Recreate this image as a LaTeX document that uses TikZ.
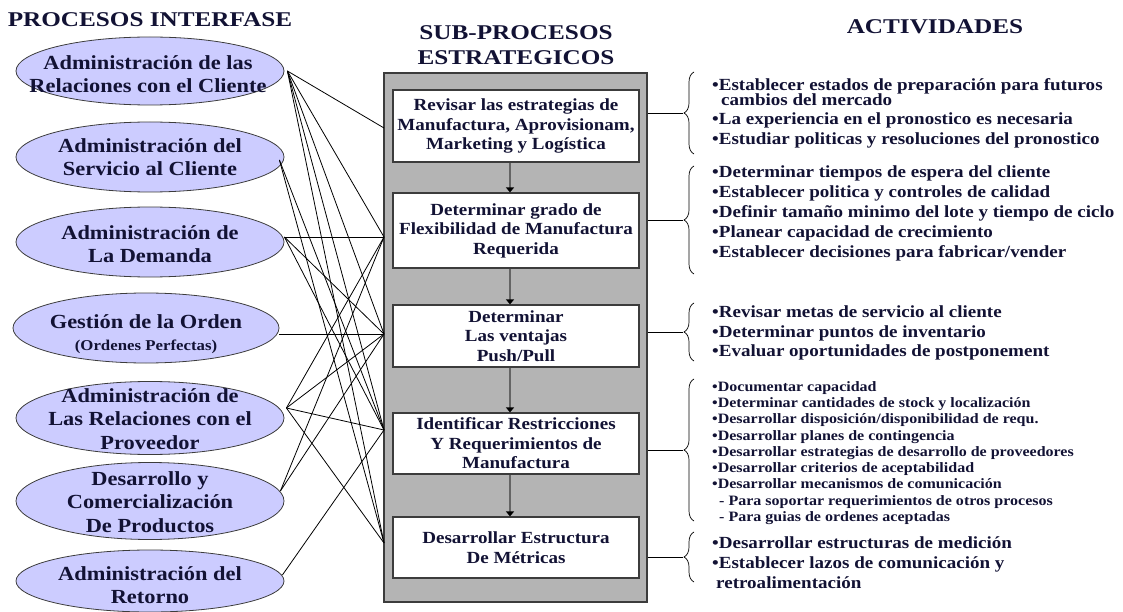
\documentclass[tikz,border=0pt]{standalone}
\usepackage{fontspec}
\setmainfont[FakeStretch=1.12]{Liberation Serif}
\newfontfamily\titlefont[FakeStretch=1.2]{Liberation Serif}
\usetikzlibrary{shapes.geometric,arrows.meta,decorations.pathreplacing}
\definecolor{inkblue}{RGB}{18,18,52}
\definecolor{lavender}{RGB}{204,204,255}
\definecolor{panelgray}{RGB}{180,180,180}
\definecolor{edgegray}{RGB}{60,60,60}
\definecolor{flowgray}{RGB}{100,100,100}

\begin{document}
\begin{tikzpicture}[x=1pt,y=-1pt,
  heading/.style={text=inkblue, inner sep=0, align=center,
    font=\titlefont\bfseries\fontsize{21}{25}\selectfont},
  proc/.style={ellipse, draw=edgegray, line width=0.8pt, fill=lavender, inner sep=0},
  proctext/.style={text=inkblue, inner sep=0, align=center,
    font=\bfseries\fontsize{20}{23.5}\selectfont},
  panelbox/.style={draw=edgegray, fill=panelgray, line width=1.6pt, inner sep=0},
  stepbox/.style={draw=edgegray, fill=white, line width=1.2pt, inner sep=0,
    minimum width=246pt, text=inkblue, align=center,
    font=\bfseries\fontsize{17}{19.5}\selectfont},
  flowarrow/.style={draw=flowgray, line width=2.4pt,
    -{Triangle[length=5pt,width=8pt,color=black]}},
  link/.style={draw=black, line width=0.8pt},
  bracket/.style={draw=black, line width=0.7pt, decorate,
    decoration={brace, amplitude=10pt}},
  acttext/.style={text=inkblue, anchor=west, inner sep=0, align=left,
    font=\bfseries\fontsize{17}{19.5}\selectfont},
  acttextsmall/.style={acttext, font=\bfseries\fontsize{14.3}{16.3}\selectfont}
]
\useasboundingbox (0,0) rectangle (1123,612);

% column headings
\node[heading] (hleft) at (150,20) {PROCESOS INTERFASE};
\node[heading] (hmid) at (516,45) {SUB-PROCESOS\\ESTRATEGICOS};
\node[heading] (hright) at (935,27) {ACTIVIDADES};

% interface processes
\node[proc, minimum width=268pt, minimum height=68pt] (e1) at (150,71) {};
\node[proc, minimum width=268pt, minimum height=70pt] (e2) at (150,157) {};
\node[proc, minimum width=268pt, minimum height=70pt] (e3) at (150,242) {};
\node[proc, minimum width=266pt, minimum height=70pt] (e4) at (146,328) {};
\node[proc, minimum width=268pt, minimum height=73pt] (e5) at (150,418) {};
\node[proc, minimum width=268pt, minimum height=77pt] (e6) at (150,501) {};
\node[proc, minimum width=268pt, minimum height=62pt] (e7) at (150,581) {};

\node[proctext] (l1) at (148,74) {Administración de las\\Relaciones con el Cliente};
\node[proctext] (l2) at (150,157) {Administración del\\Servicio al Cliente};
\node[proctext] (l3) at (150,244) {Administración de\\La Demanda};
\node[proctext] (l4) at (146,334) {Gestión de la Orden\\[-2pt]{\fontsize{15}{17}\selectfont(Ordenes Perfectas)}};
\node[proctext] (l5) at (150,419) {Administración de\\Las Relaciones con el\\Proveedor};
\node[proctext] (l6) at (150,502) {Desarrollo y\\Comercialización\\De Productos};
\node[proctext] (l7) at (150,585) {Administración del\\Retorno};

% strategic sub-processes
\node[panelbox, minimum width=263pt, minimum height=529pt] (panel) at (515.5,337.5) {};
\node[stepbox, minimum height=72pt] (b1) at (516,126)
  {Revisar las estrategias de\\Manufactura, Aprovisionam,\\Marketing y Logística};
\node[stepbox, minimum height=75pt] (b2) at (516,230.5)
  {Determinar grado de\\Flexibilidad de Manufactura\\Requerida};
\node[stepbox, minimum height=62pt] (b3) at (516,336)
  {Determinar\\Las ventajas\\Push/Pull};
\node[stepbox, minimum height=61pt] (b4) at (516,443.5)
  {Identificar Restricciones\\Y Requerimientos de\\Manufactura};
\node[stepbox, minimum height=61pt] (b5) at (516,547.5)
  {Desarrollar Estructura\\De Métricas};

\draw[flowarrow] ([xshift=-6pt]b1.south) -- ([xshift=-6pt]b2.north);
\draw[flowarrow] ([xshift=-6pt]b2.south) -- ([xshift=-6pt]b3.north);
\draw[flowarrow] ([xshift=-6pt]b3.south) -- ([xshift=-6pt]b4.north);
\draw[flowarrow] ([xshift=-6pt]b4.south) -- ([xshift=-6pt]b5.north);

% meeting points on the left edge of the panel
\coordinate (h1) at (384,128);
\coordinate (h2) at (384,237);
\coordinate (h3) at (384,334);
\coordinate (h4) at (384,430);
\coordinate (h5) at (384,543);

% departure points on the ellipses
\coordinate (s1) at ([xshift=3pt]e1.east);
\coordinate (s2) at ([xshift=-5pt,yshift=-3pt]e2.east);
\coordinate (s3) at ([yshift=5pt]e3.east);
\coordinate (s4) at ([yshift=-6pt]e4.east);
\coordinate (s5) at ([xshift=2pt,yshift=10pt]e5.east);
\coordinate (s6) at ([xshift=-4pt,yshift=10pt]e6.east);
\coordinate (s7) at ([xshift=-2pt,yshift=6pt]e7.east);

\foreach \h in {h1,h2,h3,h4,h5} \draw[link] (s1) -- (\h);
\foreach \h in {h4,h5} \draw[link] (s2) -- (\h);
\foreach \h in {h2,h3,h4} \draw[link] (s3) -- (\h);
\draw[link] (s4) -- (h3);
\foreach \h in {h2,h3,h4,h5} \draw[link] (s5) -- (\h);
\foreach \h in {h2,h3} \draw[link] (s6) -- (\h);
\draw[link] (s7) -- (h4);

% braces and their leaders
\coordinate (t1) at (683,113);
\coordinate (t2) at (683,220);
\coordinate (t3) at (683,332);
\coordinate (t4) at (683,450);
\coordinate (t5) at (683,557);
\draw[bracket] (694,154) -- (694,72);
\draw[bracket] (694,274) -- (694,166);
\draw[bracket] (694,361) -- (694,303);
\draw[bracket] (694,521) -- (694,379);
\draw[bracket] (694,582) -- (694,532);
\foreach \t in {t1,t2,t3,t4,t5} \draw[link] (panel.east |- \t) -- (\t);

% activities
\node[acttext] (g1) at (712,113)
  {•Establecer estados de preparación para futuros\\[-4.5pt]
   \hspace*{9pt}cambios del mercado\\
   •La experiencia en el pronostico es necesaria\\
   •Estudiar politicas y resoluciones del pronostico};
\node[acttext, font=\bfseries\fontsize{17}{20}\selectfont] (g2) at (712,213)
  {•Determinar tiempos de espera del cliente\\
   •Establecer politica y controles de calidad\\
   •Definir tamaño minimo del lote y tiempo de ciclo\\
   •Planear capacidad de crecimiento\\
   •Establecer decisiones para fabricar/vender};
\node[acttext] (g3) at (712,333)
  {•Revisar metas de servicio al cliente\\
   •Determinar puntos de inventario\\
   •Evaluar oportunidades de postponement};
\node[acttextsmall] (g4) at (712,453)
  {•Documentar capacidad\\
   •Determinar cantidades de stock y localización\\
   •Desarrollar disposición/disponibilidad de requ.\\
   •Desarrollar planes de contingencia\\
   •Desarrollar estrategias de desarrollo de proveedores\\
   •Desarrollar criterios de aceptabilidad\\
   •Desarrollar mecanismos de comunicación\\
   \hspace*{7pt}- Para soportar requerimientos de otros procesos\\
   \hspace*{7pt}- Para guias de ordenes aceptadas};
\node[acttext, font=\bfseries\fontsize{17}{20}\selectfont] (g5) at (712,563)
  {•Desarrollar estructuras de medición\\
   •Establecer lazos de comunicación y\\
   \hspace*{4pt}retroalimentación};
\end{tikzpicture}
\end{document}
